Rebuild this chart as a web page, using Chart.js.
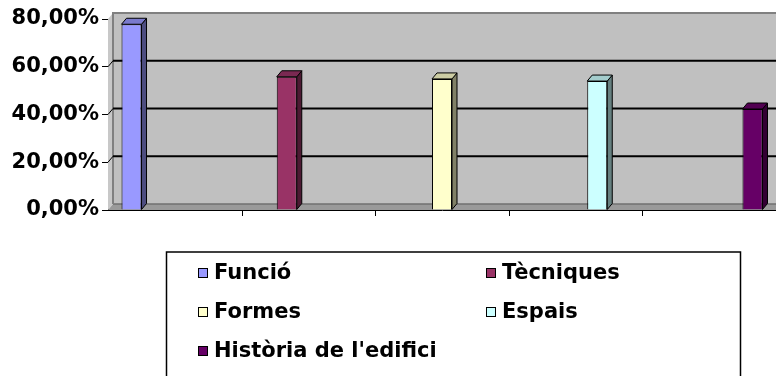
<!DOCTYPE html>
<html>
<head>
<meta charset="utf-8">
<script src="https://cdn.jsdelivr.net/npm/chart.js@4.4.0/dist/chart.umd.min.js"></script>
<style>
  html, body { margin: 0; padding: 0; background: #fff; overflow: hidden; }
</style>
</head>
<body>
<canvas id="chart" width="776" height="376"></canvas>
<script>
const categories = [''];
const seriesNames = ['Funció', 'Tècniques', 'Formes', 'Espais', "Història de l'edifici"];
const seriesValues = [77.8, 55.8, 54.9, 54.0, 42.3];
const seriesColors = ['#9999FF', '#993366', '#FFFFCC', '#CCFFFF', '#660066'];
const yTicks = [0, 20, 40, 60, 80];

// depth of the fake 3D projection
const DX = 5, DY = 6;

function shade(hex, f) {
    const n = parseInt(hex.slice(1), 16);
    const r = Math.round(((n >> 16) & 255) * f);
    const g = Math.round(((n >> 8) & 255) * f);
    const b = Math.round((n & 255) * f);
    return `rgb(${r},${g},${b})`;
}

function poly(ctx, pts, fill, stroke, lw) {
    ctx.beginPath();
    ctx.moveTo(pts[0][0], pts[0][1]);
    for (let i = 1; i < pts.length; i++) ctx.lineTo(pts[i][0], pts[i][1]);
    ctx.closePath();
    if (fill) { ctx.fillStyle = fill; ctx.fill(); }
    if (stroke) { ctx.strokeStyle = stroke; ctx.lineWidth = lw || 1; ctx.stroke(); }
}

const walls = {
    id: 'walls',
    beforeDatasetsDraw(chart) {
        const { ctx, chartArea: a, scales: { y } } = chart;
        const top = y.getPixelForValue(yTicks[yTicks.length - 1]);
        const bot = y.getPixelForValue(0);
        ctx.save();
        // back wall and left side wall
        poly(ctx, [[a.left + DX, top - DY], [a.right + DX, top - DY], [a.right + DX, bot - DY], [a.left + DX, bot - DY]], '#c0c0c0');
        poly(ctx, [[a.left, top], [a.left + DX, top - DY], [a.left + DX, bot - DY], [a.left, bot]], '#c8c8c8');
        // floor
        poly(ctx, [[a.left, bot], [a.left + DX, bot - DY], [a.right + DX, bot - DY], [a.right, bot]], '#9a9a9a');
        ctx.strokeStyle = '#707070';
        ctx.lineWidth = 1.5;
        ctx.beginPath();
        ctx.moveTo(a.left + DX, bot - DY); ctx.lineTo(a.right + DX, bot - DY);
        ctx.stroke();
        // wall edges
        ctx.strokeStyle = '#808080';
        ctx.lineWidth = 2;
        ctx.beginPath();
        ctx.moveTo(a.left + DX, bot - DY);
        ctx.lineTo(a.left + DX, top - DY);
        ctx.lineTo(a.right + DX, top - DY);
        ctx.stroke();
        // gridlines on the back wall
        ctx.strokeStyle = '#000';
        yTicks.slice(1, -1).forEach(v => {
            const py = y.getPixelForValue(v);
            ctx.lineWidth = 1;
            ctx.beginPath();
            ctx.moveTo(a.left, py); ctx.lineTo(a.left + DX, py - DY);
            ctx.stroke();
            ctx.lineWidth = 2;
            ctx.beginPath();
            ctx.moveTo(a.left + DX, py - DY); ctx.lineTo(a.right + DX, py - DY);
            ctx.stroke();
        });
        ctx.restore();
    },
    afterDatasetsDraw(chart) {
        const ctx = chart.ctx;
        ctx.save();
        chart.data.datasets.forEach((ds, i) => {
            chart.getDatasetMeta(i).data.forEach(bar => {
                const l = bar.x - bar.width / 2, r = bar.x + bar.width / 2;
                const t = bar.y, b = bar.base;
                poly(ctx, [[r, t], [r + DX, t - DY], [r + DX, b - DY], [r, b]], shade(ds.backgroundColor, 0.5), '#000', 1);
                poly(ctx, [[l, t], [l + DX, t - DY], [r + DX, t - DY], [r, t]], shade(ds.backgroundColor, 0.8), '#000', 1);
            });
        });
        ctx.restore();
    },
    afterDraw(chart) {
        const { ctx, chartArea: a, scales: { y } } = chart;
        const bot = y.getPixelForValue(0);
        ctx.save();
        // category tick marks under the floor
        ctx.strokeStyle = '#000';
        ctx.lineWidth = 1;
        for (let k = 1; k < 5; k++) {
            const px = Math.round(a.left + k * (a.right - a.left) / 5) + 0.5;
            ctx.beginPath();
            ctx.moveTo(px, bot); ctx.lineTo(px, bot + 6);
            ctx.stroke();
        }
        // legend box
        ctx.lineWidth = 1.5;
        ctx.strokeRect(166.5, 252, 574, 140);
        ctx.font = 'bold 21px "DejaVu Sans"';
        ctx.textBaseline = 'middle';
        ctx.fillStyle = '#000';
        const colX = [198, 486], rowY = [273, 312, 351];
        seriesNames.forEach((name, i) => {
            const x = colX[i % 2], yy = rowY[Math.floor(i / 2)];
            ctx.fillStyle = seriesColors[i];
            ctx.fillRect(x, yy - 5, 10, 10);
            ctx.strokeStyle = '#000';
            ctx.lineWidth = 1;
            ctx.strokeRect(x + 0.5, yy - 4.5, 9, 9);
            ctx.fillStyle = '#000';
            ctx.fillText(name, x + 16, yy + 1);
        });
        ctx.restore();
    }
};

new Chart(document.getElementById('chart'), {
    type: 'bar',
    data: {
        labels: categories,
        datasets: seriesNames.map((name, i) => ({
            label: name,
            data: [seriesValues[i]],
            backgroundColor: seriesColors[i],
            borderColor: '#000',
            borderWidth: 1,
            clip: false
        }))
    },
    options: {
        responsive: false,
        animation: false,
        categoryPercentage: 1.162,
        barPercentage: 0.129,
        layout: { padding: { top: 19, bottom: 166, left: 0, right: 0 } },
        plugins: { legend: { display: false }, tooltip: { enabled: false } },
        scales: {
            x: {
                ticks: { display: false },
                grid: { display: false },
                border: { color: '#000', width: 1 },
                afterFit: s => { s.height = 0; }
            },
            y: {
                min: 0,
                max: 80,
                afterBuildTicks: s => { s.ticks = yTicks.map(v => ({ value: v })); },
                ticks: {
                    color: '#000',
                    padding: 3,
                    font: { family: 'DejaVu Sans', weight: 'bold', size: 21 },
                    callback: v => v.toFixed(2).replace('.', ',') + '%'
                },
                grid: { drawOnChartArea: false, color: '#000', tickLength: 6 },
                border: { color: '#000', width: 1 },
                afterFit: s => { s.width = 108; }
            }
        }
    },
    plugins: [walls]
});
</script>
</body>
</html>
